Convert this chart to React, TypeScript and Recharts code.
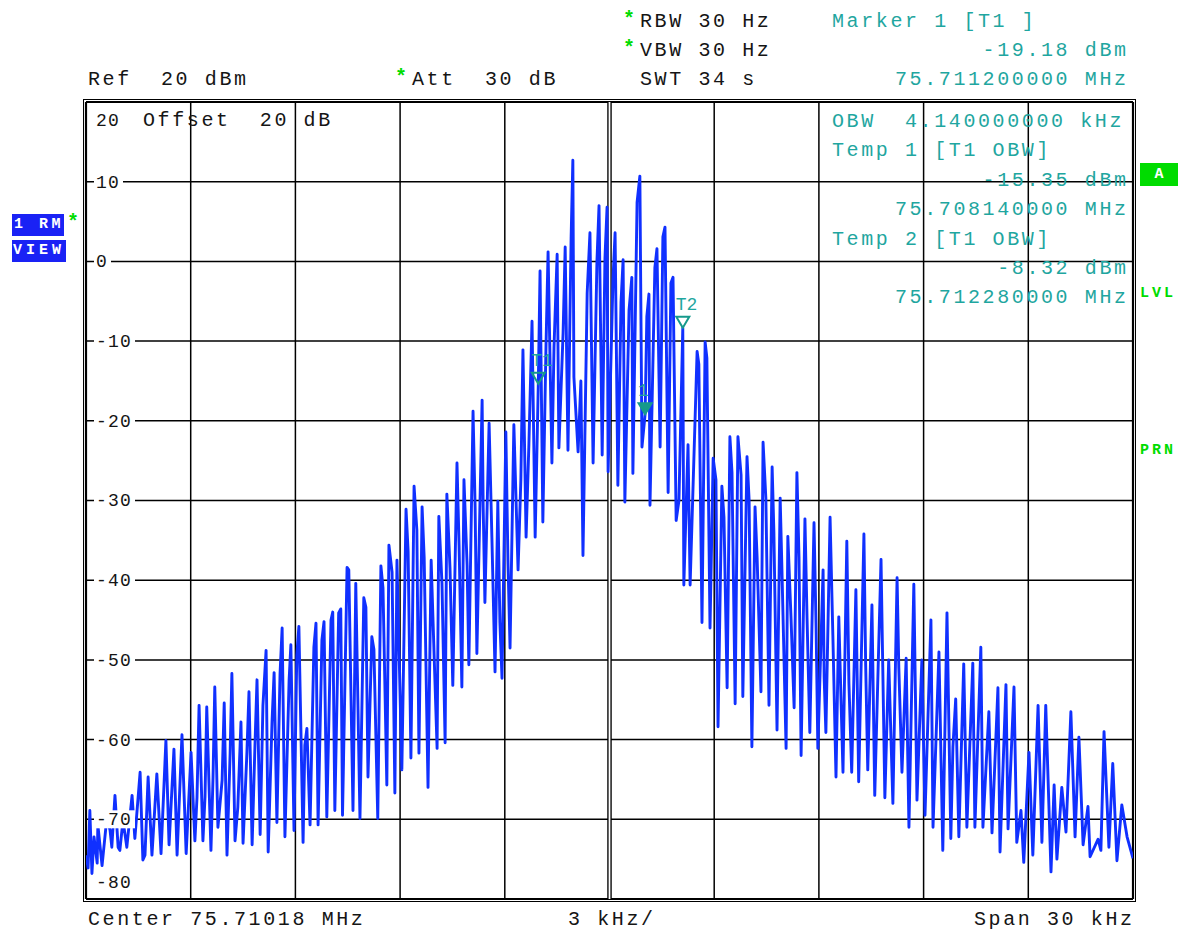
import React from "react";
import { LineChart, Line, XAxis, YAxis, ReferenceLine, ReferenceDot } from "recharts";

const centerMHz = 75.71018;
const spanKHz = 30;
const rbwHz = 30;
const vbwHz = 30;
const attDb = 30;
const sweepS = 34;
const offsetDb = 20;

// grid: kHz from center, dBm
const freqTicks = [-15, -12, -9, -6, -3, 0, 3, 6, 9, 12, 15];
const levelTicks = [20, 10, 0, -10, -20, -30, -40, -50, -60, -70, -80];

// trace points as [kHz from center, dBm], left to right
const traceLowerSkirt = [
  [-15.0, -74.5], [-14.94, -76.1], [-14.89, -68.9], [-14.83, -76.8], [-14.77, -72.2], [-14.68, -75.5],
  [-14.66, -70.7], [-14.54, -75.8], [-14.4, -69.7], [-14.31, -71.4], [-14.26, -73.5], [-14.17, -67.0],
  [-14.08, -73.5], [-14.03, -73.9], [-13.94, -70.1], [-13.83, -73.5], [-13.68, -67.0], [-13.6, -72.4],
  [-13.45, -64.1], [-13.37, -75.1], [-13.31, -74.5], [-13.22, -64.7], [-13.11, -74.5], [-12.97, -64.3],
  [-12.85, -74.3], [-12.71, -60.1], [-12.62, -73.2], [-12.48, -61.2], [-12.39, -74.5], [-12.25, -59.4],
  [-12.13, -74.3], [-11.99, -61.6], [-11.88, -72.7], [-11.82, -67.3], [-11.76, -55.7], [-11.65, -72.7],
  [-11.59, -67.2], [-11.54, -55.9], [-11.42, -73.9], [-11.36, -64.7], [-11.31, -53.4], [-11.22, -71.0],
  [-11.1, -65.1], [-11.04, -55.4], [-10.96, -74.5], [-10.87, -61.7], [-10.82, -51.7], [-10.73, -72.7],
  [-10.65, -68.5], [-10.56, -57.8], [-10.5, -73.0], [-10.39, -61.7], [-10.33, -54.0], [-10.24, -73.2],
  [-10.16, -60.9], [-10.1, -52.5], [-10.01, -71.9], [-9.93, -55.7], [-9.84, -48.8], [-9.78, -74.1],
  [-9.67, -57.8], [-9.61, -51.6], [-9.53, -70.4], [-9.44, -51.7], [-9.38, -46.0], [-9.3, -72.2],
  [-9.18, -52.5], [-9.13, -48.1], [-9.04, -71.4], [-8.96, -49.4], [-8.9, -45.8], [-8.78, -72.9],
  [-8.73, -60.7], [-8.67, -58.6], [-8.58, -70.7], [-8.47, -48.4], [-8.41, -45.4], [-8.35, -70.7],
  [-8.24, -47.5], [-8.18, -45.2], [-8.1, -69.7], [-7.98, -45.0], [-7.93, -44.0], [-7.87, -68.9],
  [-7.76, -44.1], [-7.7, -43.6], [-7.65, -69.5],
];

const traceLowerShoulder = [
  [-7.52, -38.4], [-7.47, -38.7], [-7.35, -68.9], [-7.27, -40.4], [-7.15, -69.9], [-7.04, -42.2],
  [-6.98, -43.4], [-6.92, -64.7], [-6.81, -47.1], [-6.75, -48.7], [-6.64, -69.9], [-6.55, -38.2],
  [-6.49, -41.0], [-6.38, -65.7], [-6.32, -35.6], [-6.23, -39.0], [-6.15, -66.7], [-6.09, -37.5],
  [-5.95, -63.8], [-5.83, -31.1], [-5.77, -36.4], [-5.69, -62.3], [-5.6, -28.2], [-5.52, -33.7],
  [-5.46, -61.7], [-5.37, -30.8], [-5.31, -37.2], [-5.2, -66.0], [-5.11, -37.5], [-5.06, -44.6],
  [-4.94, -61.1], [-4.89, -32.0], [-4.8, -40.4], [-4.71, -60.4], [-4.66, -29.2], [-4.57, -38.5],
  [-4.49, -53.2], [-4.37, -25.3], [-4.31, -35.6], [-4.23, -53.4], [-4.17, -27.4], [-4.08, -38.1],
  [-4.03, -50.6], [-3.91, -18.8], [-3.85, -30.9], [-3.8, -49.2], [-3.65, -17.4], [-3.62, -30.6],
  [-3.57, -42.8], [-3.45, -20.3], [-3.37, -34.6], [-3.28, -51.5], [-3.2, -30.1], [-3.14, -45.3],
  [-3.08, -52.3], [-2.97, -21.4], [-2.91, -37.5], [-2.85, -48.5], [-2.74, -20.5], [-2.62, -38.7],
];

const traceCenter = [
  [-2.54, -27.4], [-2.48, -11.1], [-2.39, -34.6], [-2.31, -23.0], [-2.22, -7.5], [-2.13, -34.6],
  [-1.99, -1.2], [-1.91, -32.7], [-1.82, -10.7], [-1.76, 1.2], [-1.65, -25.3], [-1.59, -10.7],
  [-1.5, 0.9], [-1.45, -23.4], [-1.33, -9.0], [-1.27, 1.8], [-1.19, -23.7], [-1.1, 2.9],
  [-1.05, 12.7], [-1.02, -14.5], [-0.9, -23.9], [-0.82, -15.0], [-0.76, -36.9], [-0.64, -4.0],
  [-0.56, 3.6], [-0.47, -25.3], [-0.36, 0.0], [-0.3, 7.0], [-0.21, -24.3], [-0.13, 0.4],
  [-0.07, 6.8], [-0.04, -26.4], [0.1, -2.3], [0.16, 3.6], [0.24, -28.1], [0.33, -5.1],
  [0.39, 0.2], [0.44, -30.2], [0.56, -6.1], [0.64, -2.0], [0.67, -26.6], [0.79, 7.4],
  [0.87, 10.7], [0.93, -23.3], [1.07, -6.9], [1.13, -4.1], [1.16, -30.6], [1.3, -0.8],
  [1.36, 1.6], [1.45, -23.3], [1.53, 3.1], [1.59, 4.3], [1.68, -29.0], [1.76, -2.7],
  [1.82, -2.0], [1.91, -32.5], [1.99, -30.0], [2.13, -40.6], [2.25, -23.0], [2.31, -40.6],
  [2.51, -11.3], [2.56, -12.9], [2.65, -45.3], [2.74, -10.1], [2.79, -12.1], [2.88, -46.0],
];

const traceUpperShoulder = [
  [2.97, -24.7], [3.05, -27.4], [3.11, -58.4], [3.22, -28.2], [3.28, -32.1], [3.37, -53.5],
  [3.45, -22.0], [3.51, -26.5], [3.6, -55.5], [3.68, -22.0], [3.77, -26.8], [3.82, -54.6],
  [3.94, -24.5], [4.0, -29.9], [4.08, -60.9], [4.17, -30.8], [4.23, -37.2], [4.34, -54.0],
  [4.4, -22.7], [4.48, -29.7], [4.57, -55.7], [4.66, -25.8], [4.71, -33.9], [4.8, -58.8],
  [4.89, -29.7], [4.94, -38.5], [5.06, -61.1], [5.11, -34.5], [5.2, -44.6], [5.29, -56.0],
  [5.37, -26.5], [5.43, -37.1], [5.49, -62.0], [5.6, -32.3], [5.66, -44.7], [5.74, -59.1],
  [5.86, -32.8], [5.92, -46.0], [5.97, -61.1], [6.12, -38.7], [6.15, -52.1], [6.2, -59.1],
  [6.32, -32.1], [6.4, -46.9], [6.49, -64.7], [6.57, -44.6], [6.69, -64.1], [6.8, -35.1],
  [6.86, -52.9], [6.94, -64.1], [7.06, -41.2], [7.14, -65.3], [7.29, -34.2], [7.34, -50.6],
  [7.4, -63.8], [7.52, -43.1], [7.6, -67.0], [7.78, -37.4], [7.83, -50.9], [7.89, -67.3],
  [8.0, -50.0], [8.12, -68.0], [8.24, -39.7], [8.29, -51.0], [8.38, -64.1], [8.5, -49.8],
  [8.58, -71.0], [8.72, -40.5], [8.81, -67.6], [8.95, -50.0], [9.04, -69.5], [9.21, -45.0],
  [9.27, -71.0], [9.44, -49.0], [9.55, -73.9], [9.67, -44.1], [9.78, -72.4],
];

const traceUpperSkirt = [
  [9.84, -60.9], [9.92, -54.9], [10.01, -72.2], [10.15, -50.5], [10.24, -71.0], [10.41, -50.4],
  [10.47, -71.0], [10.64, -48.4], [10.7, -71.0], [10.87, -56.5], [10.96, -71.7], [11.13, -53.5],
  [11.19, -74.1], [11.36, -53.1], [11.42, -71.2], [11.59, -53.4], [11.67, -72.9], [11.79, -68.9],
  [11.87, -75.4], [12.02, -61.6], [12.13, -74.5], [12.28, -55.7], [12.39, -72.9], [12.5, -55.7],
  [12.65, -76.6], [12.74, -65.7], [12.82, -75.0], [12.96, -66.0], [13.08, -71.6], [13.22, -56.5],
  [13.34, -72.2], [13.45, -59.7], [13.57, -73.2], [13.71, -68.4], [13.77, -74.7], [14.0, -72.5],
  [14.08, -73.9], [14.17, -59.0], [14.31, -73.5], [14.42, -63.0], [14.54, -75.2], [14.68, -68.2],
  [14.83, -72.2], [15.0, -74.9],
];

// markers: T1/T2 are the OBW temp markers, "1" is marker 1
const markerNames = ["T1", "1", "T2"];
const markerFreqs = [-2.04, 1.02, 2.1];
const markerLevels = [-15.35, -19.18, -8.32];

const mono = '"Liberation Mono", "DejaVu Sans Mono", monospace';
const ink = "#151515";
const teal = "#1fa6a0";
const markTeal = "#169a8c";
const green = "#00dc00";
const traceBlue = "#1030ff";
const boxBlue = "#1a22f5";

const traceData = [
  ...traceLowerSkirt,
  ...traceLowerShoulder,
  ...traceCenter,
  ...traceUpperShoulder,
  ...traceUpperSkirt,
  ...markerFreqs.map((f, i) => [f, markerLevels[i]]),
]
  .map(([f, level]) => ({ f, level }))
  .sort((a, b) => a.f - b.f);

const mhz = (f: number) => (centerMHz + f / 1000).toFixed(9) + " MHz";
const dbm = (v: number) => v.toFixed(2) + " dBm";
const obwKHz = markerFreqs[2] - markerFreqs[0];

function Txt({ x, y, right, color = ink, children }: any) {
  const style: React.CSSProperties = {
    position: "absolute",
    top: y - 10,
    fontFamily: mono,
    fontSize: 20,
    lineHeight: "22px",
    letterSpacing: "2.6px",
    color,
    whiteSpace: "pre",
  };
  if (right !== undefined) {
    style.right = 1191 - (right + 3.6);
    style.textAlign = "right";
  } else {
    style.left = x;
  }
  return <div style={style}>{children}</div>;
}

function Star({ x, y }: any) {
  return (
    <div
      style={{
        position: "absolute",
        left: x,
        top: y - 12,
        fontFamily: mono,
        fontSize: 20,
        lineHeight: "22px",
        color: green,
        fontWeight: 700,
      }}
    >
      *
    </div>
  );
}

function LevelTick(props: any) {
  const { y, payload } = props;
  const v = payload.value;
  const shift = v === levelTicks[0] ? 18 : v === levelTicks[levelTicks.length - 1] ? -17 : 0;
  const label = String(v);
  return (
    <g>
      {shift === 0 && <rect x={94} y={y - 9} width={label.length * 12 + 5} height={18} fill="#fff" />}
      <text
        x={96}
        y={y + shift}
        dy="0.33em"
        fontFamily={mono}
        fontSize={18}
        letterSpacing={1.2}
        fill={ink}
      >
        {label}
      </text>
    </g>
  );
}

function MarkerGlyph({ cx, cy, name }: any) {
  const filled = name === "1";
  return (
    <g>
      <polygon
        points={`${cx - 6.5},${cy - 11} ${cx + 6.5},${cy - 11} ${cx},${cy}`}
        fill={filled ? markTeal : "#fff"}
        fillOpacity={filled ? 1 : 0}
        stroke={markTeal}
        strokeWidth={2}
      />
      <text x={cx - 7} y={cy - 18} fontFamily={mono} fontSize={18} fill={teal}>
        {name}
      </text>
    </g>
  );
}

function Analyzer() {
  return (
    <LineChart
      width={1191}
      height={931}
      data={traceData}
      margin={{ top: 102, right: 58, bottom: 32, left: 86 }}
    >
      <XAxis type="number" dataKey="f" domain={[-spanKHz / 2, spanKHz / 2]} allowDataOverflow hide />
      <YAxis
        type="number"
        domain={[-80, 20]}
        ticks={levelTicks}
        interval={0}
        allowDataOverflow
        mirror
        axisLine={false}
        tickLine={false}
        tick={LevelTick}
      />
      {levelTicks.map((v, i) => (
        <ReferenceLine
          key={"h" + v}
          y={v}
          stroke="#000"
          strokeWidth={i === 0 || i === levelTicks.length - 1 ? 2.2 : 1.5}
        />
      ))}
      {freqTicks.map((f, i) => (
        <ReferenceLine
          key={"v" + f}
          x={f}
          stroke="#000"
          strokeWidth={i === 0 || i === freqTicks.length - 1 ? 2.2 : f === 0 ? 4.5 : 1.5}
        />
      ))}
      <ReferenceLine x={0} stroke="#fff" strokeWidth={1.8} />
      <Line
        type="linear"
        dataKey="level"
        stroke={traceBlue}
        strokeWidth={2.9}
        strokeLinejoin="round"
        dot={false}
        isAnimationActive={false}
      />
      {markerNames.map((name, i) => (
        <ReferenceDot
          key={name}
          x={markerFreqs[i]}
          y={markerLevels[i]}
          r={6}
          shape={(p: any) => <MarkerGlyph cx={p.cx} cy={p.cy} name={name} />}
        />
      ))}
    </LineChart>
  );
}

export default function App() {
  return (
    <div
      style={{
        position: "absolute",
        left: 0,
        top: 0,
        width: 1191,
        height: 931,
        background: "#fff",
        overflow: "hidden",
      }}
    >
      <div style={{ position: "absolute", left: 0, top: 0 }}>
        <Analyzer />
      </div>
      {/* outer frame */}
      <div
        style={{
          position: "absolute",
          left: 83,
          top: 99,
          width: 1053,
          height: 803,
          boxSizing: "border-box",
          border: "1.5px solid #000",
        }}
      />

      <Star x={623} y={21} />
      <Txt x={640} y={21}>{`RBW ${rbwHz} Hz`}</Txt>
      <Star x={623} y={50} />
      <Txt x={640} y={50}>{`VBW ${vbwHz} Hz`}</Txt>
      <Txt x={88} y={79}>{`Ref  ${levelTicks[0]} dBm`}</Txt>
      <Star x={395} y={79} />
      <Txt x={412} y={79}>{`Att  ${attDb} dB`}</Txt>
      <Txt x={640} y={79}>{`SWT ${sweepS} s`}</Txt>

      <Txt x={832} y={21} color={teal}>{"Marker 1 [T1 ]"}</Txt>
      <Txt right={1125} y={50} color={teal}>{dbm(markerLevels[1])}</Txt>
      <Txt right={1125} y={79} color={teal}>{mhz(markerFreqs[1])}</Txt>

      <Txt x={143} y={120}>{`Offset  ${offsetDb} dB`}</Txt>
      <Txt x={832} y={121} color={teal}>{`OBW  ${obwKHz.toFixed(9)} kHz`}</Txt>
      <Txt x={832} y={150} color={teal}>{"Temp 1 [T1 OBW]"}</Txt>
      <Txt right={1125} y={180} color={teal}>{dbm(markerLevels[0])}</Txt>
      <Txt right={1125} y={209} color={teal}>{mhz(markerFreqs[0])}</Txt>
      <Txt x={832} y={239} color={teal}>{"Temp 2 [T1 OBW]"}</Txt>
      <Txt right={1125} y={268} color={teal}>{dbm(markerLevels[2])}</Txt>
      <Txt right={1125} y={297} color={teal}>{mhz(markerFreqs[2])}</Txt>

      <Txt x={88} y={919}>{`Center ${centerMHz.toFixed(5)} MHz`}</Txt>
      <Txt x={568} y={919}>{`${spanKHz / 10} kHz/`}</Txt>
      <Txt right={1131} y={919}>{`Span ${spanKHz} kHz`}</Txt>

      {/* trace status boxes */}
      <div
        style={{
          position: "absolute",
          left: 12,
          top: 214,
          width: 52,
          height: 22,
          background: boxBlue,
          color: "#fff",
          fontFamily: mono,
          fontWeight: 700,
          fontSize: 15,
          lineHeight: "22px",
          letterSpacing: "3.5px",
          whiteSpace: "pre",
          paddingLeft: 2,
          boxSizing: "border-box",
        }}
      >
        1 RM
      </div>
      <Star x={67} y={224} />
      <div
        style={{
          position: "absolute",
          left: 12,
          top: 240,
          width: 54,
          height: 22,
          background: boxBlue,
          color: "#fff",
          fontFamily: mono,
          fontWeight: 700,
          fontSize: 15,
          lineHeight: "22px",
          letterSpacing: "4px",
          paddingLeft: 1,
          boxSizing: "border-box",
        }}
      >
        VIEW
      </div>

      {/* side annotations */}
      <div
        style={{
          position: "absolute",
          left: 1140,
          top: 163,
          width: 38,
          height: 23,
          background: green,
          color: "#fff",
          fontFamily: mono,
          fontWeight: 700,
          fontSize: 15,
          lineHeight: "23px",
          textAlign: "center",
        }}
      >
        A
      </div>
      {[
        ["LVL", 294],
        ["PRN", 451],
      ].map(([t, y]) => (
        <div
          key={t as string}
          style={{
            position: "absolute",
            left: 1140,
            top: (y as number) - 11,
            fontFamily: mono,
            fontWeight: 700,
            fontSize: 15,
            lineHeight: "22px",
            letterSpacing: "3px",
            color: green,
          }}
        >
          {t}
        </div>
      ))}
    </div>
  );
}
